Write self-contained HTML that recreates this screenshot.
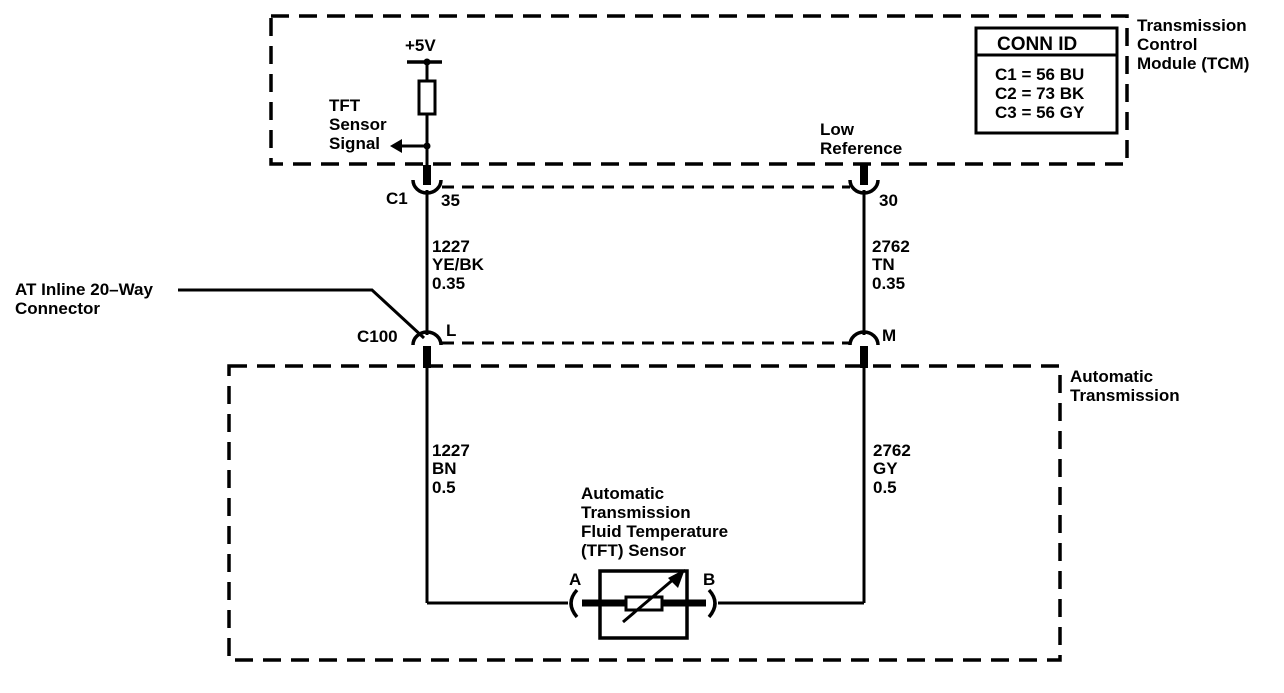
<!DOCTYPE html>
<html><head><style>
body{margin:0;background:#fff}
svg text{font-family:"Liberation Sans",Arial,sans-serif;font-size:17px;font-weight:bold;fill:#000}
</style></head><body>
<svg width="1284" height="688" viewBox="0 0 1284 688" xmlns="http://www.w3.org/2000/svg">
<g fill="none" stroke="#000">
<rect x="271" y="16" width="856" height="148" stroke-width="3.5" stroke-dasharray="18,10"/>
<rect x="229" y="366" width="831" height="294" stroke-width="3.5" stroke-dasharray="18,10"/>
<line x1="442" y1="187" x2="850" y2="187" stroke-width="3" stroke-dasharray="12,8"/>
<line x1="442" y1="343" x2="850" y2="343" stroke-width="3" stroke-dasharray="12,8"/>
<line x1="407" y1="62" x2="442" y2="62" stroke-width="3.5"/>
<line x1="427" y1="62" x2="427" y2="80" stroke-width="3"/>
<rect x="419" y="81" width="16" height="33" stroke-width="3"/>
<line x1="427" y1="114" x2="427" y2="165" stroke-width="3"/>
<line x1="400" y1="146" x2="427" y2="146" stroke-width="3"/>
<line x1="427" y1="165" x2="427" y2="185" stroke-width="8"/>
<path d="M413 180 A14 13 0 0 0 441 180" stroke-width="3.5"/>
<line x1="427" y1="190" x2="427" y2="335" stroke-width="3"/>
<path d="M413 345 A14 13 0 0 1 441 345" stroke-width="3.5"/>
<line x1="427" y1="346" x2="427" y2="368" stroke-width="8"/>
<line x1="427" y1="368" x2="427" y2="603" stroke-width="3"/>
<line x1="427" y1="603" x2="568" y2="603" stroke-width="3"/>
<line x1="864" y1="165" x2="864" y2="185" stroke-width="8"/>
<path d="M850 180 A14 13 0 0 0 878 180" stroke-width="3.5"/>
<line x1="864" y1="190" x2="864" y2="335" stroke-width="3"/>
<path d="M850 345 A14 13 0 0 1 878 345" stroke-width="3.5"/>
<line x1="864" y1="346" x2="864" y2="368" stroke-width="8"/>
<line x1="864" y1="368" x2="864" y2="603" stroke-width="3"/>
<line x1="864" y1="603" x2="718" y2="603" stroke-width="3"/>
<polyline points="178,290 372,290 424,338" stroke-width="3"/>
<path d="M577 590 Q565 603 577 617" stroke-width="3.5"/>
<path d="M709 590 Q721 603 709 617" stroke-width="3.5"/>
<line x1="582" y1="603" x2="600" y2="603" stroke-width="7"/>
<line x1="688" y1="603" x2="706" y2="603" stroke-width="7"/>
<rect x="600" y="571" width="87" height="67" stroke-width="3.5"/>
<line x1="600" y1="603" x2="626" y2="603" stroke-width="7"/>
<line x1="662" y1="603" x2="687" y2="603" stroke-width="7"/>
<rect x="626" y="597" width="36" height="13" stroke-width="3"/>
<line x1="623" y1="622" x2="675" y2="578" stroke-width="3"/>
<rect x="976" y="28" width="141" height="105" stroke-width="3"/>
<line x1="976" y1="55" x2="1117" y2="55" stroke-width="3"/>
</g>
<circle cx="427" cy="62" r="3.5"/>
<circle cx="427" cy="146" r="3.5"/>
<polygon points="390,146 402,139 402,153"/>
<polygon points="685,569 668,578 678,588"/>
<text x="405" y="51">+5V</text>
<text x="329" y="111">TFT</text>
<text x="329" y="130">Sensor</text>
<text x="329" y="149">Signal</text>
<text x="820" y="135">Low</text>
<text x="820" y="154">Reference</text>
<text x="386" y="204">C1</text>
<text x="441" y="206">35</text>
<text x="879" y="206">30</text>
<text x="432" y="252">1227</text>
<text x="432" y="270">YE/BK</text>
<text x="432" y="289">0.35</text>
<text x="872" y="252">2762</text>
<text x="872" y="270">TN</text>
<text x="872" y="289">0.35</text>
<text x="15" y="295">AT Inline 20–Way</text>
<text x="15" y="314">Connector</text>
<text x="357" y="342">C100</text>
<text x="446" y="336">L</text>
<text x="882" y="341">M</text>
<text x="1070" y="382">Automatic</text>
<text x="1070" y="401">Transmission</text>
<text x="432" y="456">1227</text>
<text x="432" y="474">BN</text>
<text x="432" y="493">0.5</text>
<text x="873" y="456">2762</text>
<text x="873" y="474">GY</text>
<text x="873" y="493">0.5</text>
<text x="581" y="499">Automatic</text>
<text x="581" y="518">Transmission</text>
<text x="581" y="537">Fluid Temperature</text>
<text x="581" y="556">(TFT) Sensor</text>
<text x="569" y="585">A</text>
<text x="703" y="585">B</text>
<text x="997" y="50" style="font-size:19px">CONN ID</text>
<text x="995" y="80">C1 = 56 BU</text>
<text x="995" y="99">C2 = 73 BK</text>
<text x="995" y="118">C3 = 56 GY</text>
<text x="1137" y="31">Transmission</text>
<text x="1137" y="50">Control</text>
<text x="1137" y="69">Module (TCM)</text>
</svg>
</body></html>
